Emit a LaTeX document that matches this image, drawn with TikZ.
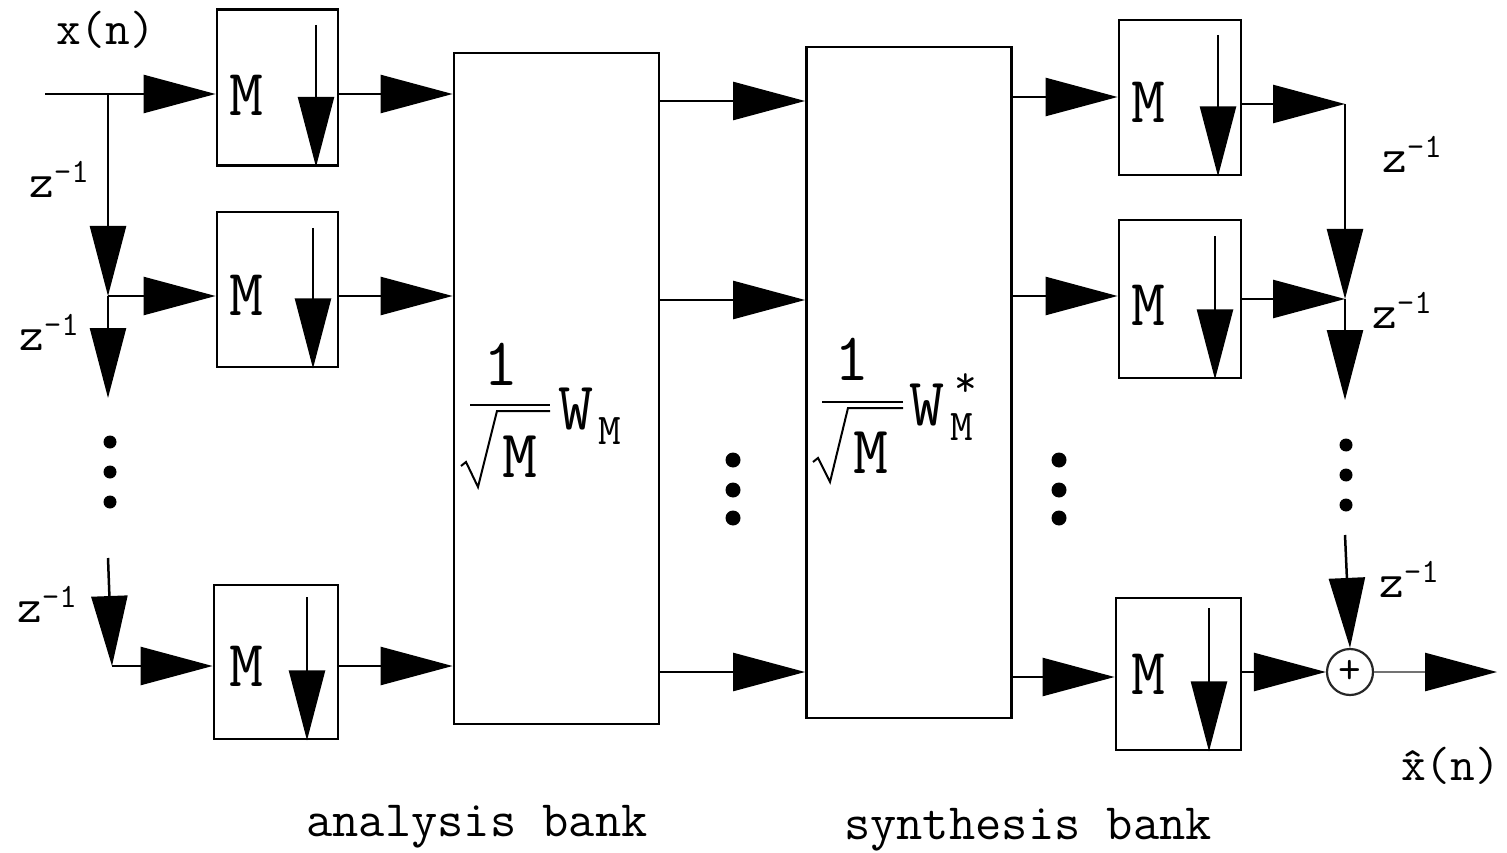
\documentclass[tikz,border=0pt]{standalone}
\usepackage{fontspec}
\usetikzlibrary{arrows.meta}
\newcommand\zinvlbl{z\raisebox{15pt}{\fontsize{34}{34}\selectfont -1}}
\begin{document}
\begin{tikzpicture}[x=1pt,y=-1pt,line width=2.5pt,
  harr/.style={-{Triangle[length=72pt,width=38pt]}},
  varr/.style={-{Triangle[length=70pt,width=36pt]}},
  outarr/.style={draw=black!55,-{Triangle[length=72pt,width=38pt,color=black]}},
  mbox/.style={draw,line width=2.8pt,inner sep=0pt,minimum width=121pt,minimum height=156pt},
  bigbox/.style={draw,line width=2.8pt,inner sep=0pt,minimum width=205pt,minimum height=671pt},
  mlbl/.style={inner sep=0pt,font=\fontsize{66}{66}\selectfont\ttfamily},
  txt/.style={inner sep=0pt,font=\fontsize{48}{48}\selectfont\ttfamily},
  btxt/.style={inner sep=0pt,font=\fontsize{51}{51}\selectfont\ttfamily},
  ftl/.style={inner sep=0pt,font=\fontsize{68}{68}\selectfont\ttfamily},
  fts/.style={inner sep=0pt,font=\fontsize{44}{44}\selectfont\ttfamily},
  dotn/.style={circle,fill,inner sep=0pt,minimum size=13pt},
  zl/.style={inner sep=0pt,anchor=base west,font=\fontsize{48}{48}\selectfont\ttfamily}
]
\useasboundingbox (0,0) rectangle (1507,853);

% ---------- analysis side ----------
\coordinate (in) at (45,94);
\coordinate (b1) at (108,94);
\coordinate (b2) at (108,296);
\coordinate (b2e) at (108,398);
\coordinate (b3s) at (108,558);
\coordinate (b3) at (112,666);

\node[mbox] (a1) at (277.5,87.5) {};
\node[mbox,minimum height=155pt] (a2) at (277.5,289.5) {};
\node[mbox,minimum width=124pt,minimum height=154pt] (a3) at (276,662) {};
\node[bigbox] (A) at (556.5,388.5) {};
\node[bigbox] (B) at (909,382.5) {};

\draw (in) -- (b1);
\draw[harr] (b1) -- (a1.west |- b1);
\draw[varr] (b1) -- (b2);
\draw[harr] (b2) -- (a2.west |- b2);
\draw[varr] (b2) -- (b2e);
\node[dotn] (ld1) at (110,442) {};
\node[dotn] (ld2) at (110,472) {};
\node[dotn] (ld3) at (110,502) {};
\draw[varr] (b3s) -- (b3);
\draw[harr] (b3) -- (a3.west |- b3);

\draw[harr] (a1.east |- b1) -- (A.west |- b1);
\draw[harr] (a2.east |- b2) -- (A.west |- b2);
\draw[harr] (a3.east |- b3) -- (A.west |- b3);

\coordinate (d1) at (316,25);
\coordinate (d2) at (313,228);
\coordinate (d3) at (307,597);
\draw[varr] (d1) -- (d1 |- a1.south);
\draw[varr] (d2) -- (d2 |- a2.south);
\draw[varr] (d3) -- (d3 |- a3.south);

\node[mlbl] (ma1) at (246,95) {M};
\node[mlbl] (ma2) at (246,295) {M};
\node[mlbl] (ma3) at (246,666) {M};

\node[zl] (za1) at (28,198) {\zinvlbl};
\node[zl] (za2) at (18,350) {\zinvlbl};
\node[zl] (za3) at (16,622) {\zinvlbl};

\node[txt,anchor=base west] (xin) at (55,45) {x(n)};

% ---------- transforms ----------
\coordinate (c1) at (0,101);
\coordinate (c2) at (0,300);
\coordinate (c3) at (0,672);
\draw[harr] (A.east |- c1) -- (B.west |- c1);
\draw[harr] (A.east |- c2) -- (B.west |- c2);
\draw[harr] (A.east |- c3) -- (B.west |- c3);
\node[dotn,minimum size=15pt] (md1) at (733,460) {};
\node[dotn,minimum size=15pt] (md2) at (733,490) {};
\node[dotn,minimum size=15pt] (md3) at (733,518) {};

% formula A
\node[ftl] (fa1) at (501,364) {1};
\draw (470,405) -- (550,405);
\draw[line width=2pt,line join=miter] (461,466) -- (466,462) -- (478,487) -- (497,411) -- (550,411);
\node[ftl] (fam) at (520,457) {M};
\node[ftl] (faw) at (576,409) {W};
\node[fts] (fas) at (610,431) {M};

% formula B
\node[ftl] (fb1) at (852,359) {1};
\draw (822,402) -- (903,402);
\draw[line width=2pt,line join=miter] (813,462) -- (818,458) -- (830,482) -- (848,408) -- (903,408);
\node[ftl] (fbm) at (871,453) {M};
\node[ftl] (fbw) at (927,405) {W};
\node[fts] (fbst) at (966,385) {*};
\node[fts] (fbs) at (962,427) {M};

% ---------- synthesis side ----------
\node[mbox,minimum width=122pt,minimum height=155pt] (s1) at (1180,97.5) {};
\node[mbox,minimum width=122pt,minimum height=158pt] (s2) at (1180,299) {};
\node[mbox,minimum width=125pt,minimum height=152pt] (s3) at (1178.5,674) {};

\coordinate (e1) at (0,97);
\coordinate (e2) at (0,296);
\coordinate (e3) at (0,677);
\draw[harr] (B.east |- e1) -- (s1.west |- e1);
\draw[harr] (B.east |- e2) -- (s2.west |- e2);
\draw[harr] (B.east |- e3) -- (s3.west |- e3);
\node[dotn,minimum size=15pt] (sd1) at (1059,460) {};
\node[dotn,minimum size=15pt] (sd2) at (1059,490) {};
\node[dotn,minimum size=15pt] (sd3) at (1059,518) {};

\coordinate (u1) at (1218,35);
\coordinate (u2) at (1215,236);
\coordinate (u3) at (1209,608);
\draw[varr] (u1) -- (u1 |- s1.south);
\draw[varr] (u2) -- (u2 |- s2.south);
\draw[varr] (u3) -- (u3 |- s3.south);

\node[mlbl] (ms1) at (1148,102) {M};
\node[mlbl] (ms2) at (1148,305) {M};
\node[mlbl] (ms3) at (1148,674) {M};

\coordinate (j1) at (1345,104);
\coordinate (j2) at (1345,299);
\coordinate (k1) at (1345,400);
\coordinate (k2) at (1345,535);
\node[circle,draw=black!85,line width=2.2pt,minimum size=46pt,inner sep=0pt,
      font=\fontsize{44}{44}\selectfont\ttfamily] (S) at (1350,672) {\raisebox{-6pt}{+}};
\coordinate (out) at (1497,672);

\draw[harr] (s1.east |- j1) -- (j1);
\draw[varr] (j1) -- (j2);
\draw[harr] (s2.east |- j2) -- (j2);
\draw[varr] (j2) -- (k1);
\node[dotn] (rd1) at (1346,445) {};
\node[dotn] (rd2) at (1346,475) {};
\node[dotn] (rd3) at (1346,505) {};
\draw[varr] (k2) -- (S.north);
\draw[harr] (s3.east |- S) -- (S.west);
\draw[outarr] (S.east) -- (out);

\node[zl] (zs1) at (1381,173) {\zinvlbl};
\node[zl] (zs2) at (1371,328) {\zinvlbl};
\node[zl] (zs3) at (1378,597) {\zinvlbl};

\node[txt,anchor=base west] (xout) at (1400,780) {\^{x}(n)};

\node[btxt,anchor=base] (lana) at (477,836) {analysis bank};
\node[btxt,anchor=base] (lsyn) at (1028,839) {synthesis bank};
\end{tikzpicture}
\end{document}
